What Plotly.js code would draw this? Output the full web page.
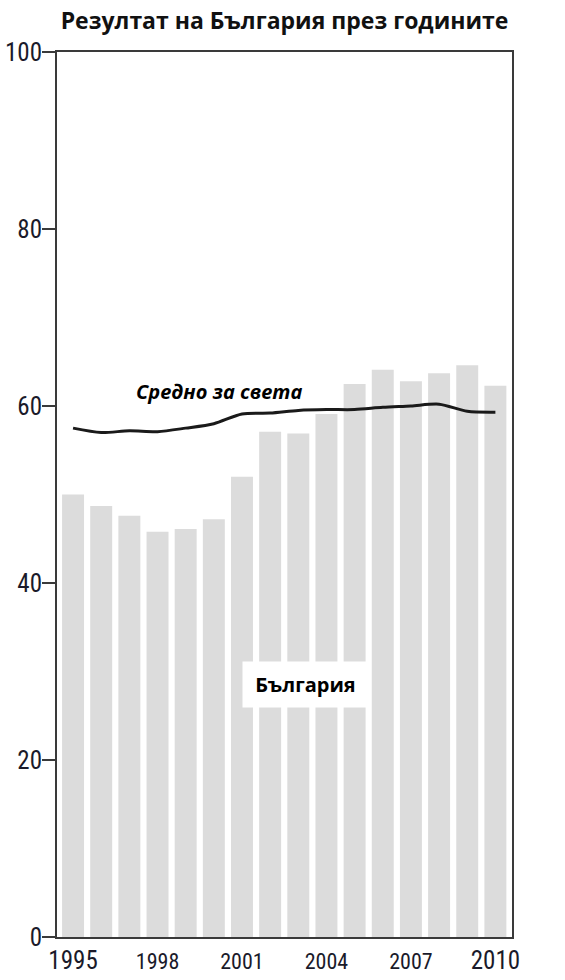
<!DOCTYPE html>
<html>
<head>
<meta charset="utf-8">
<script src="https://cdn.plot.ly/plotly-3.0.1.min.js"></script>
<style>
html,body{margin:0;padding:0;background:#fff;}
#chart{width:565px;height:980px;}
</style>
</head>
<body>
<div id="chart"></div>
<script>
const years = [1995,1996,1997,1998,1999,2000,2001,2002,2003,2004,2005,2006,2007,2008,2009,2010];
const bulgaria = [50.0,48.7,47.6,45.8,46.1,47.2,52.0,57.1,56.9,59.1,62.5,64.1,62.8,63.7,64.6,62.3];
const worldAvg = [57.5,57.0,57.2,57.1,57.5,58.0,59.1,59.2,59.5,59.6,59.6,59.85,60.0,60.2,59.4,59.3];
const xTickVals = [1995,1998,2001,2004,2007,2010];
const xTickText = ['<span style="font-size:25px">1995</span>','1998','2001','2004','2007','<span style="font-size:25px">2010</span>'];
const yTickVals = [0,20,40,60,80,100];

const narrow = '"Liberation Sans Narrow", "Arial Narrow", "Roboto Condensed", "DejaVu Sans Condensed", sans-serif';
const boldFont = '"Open Sans", "Noto Sans", sans-serif';

const traces = [
  {
    type: 'bar',
    x: years,
    y: bulgaria,
    width: 0.78,
    marker: {color: '#dcdcdc', line: {width: 0}},
    hoverinfo: 'skip',
    showlegend: false
  },
  {
    type: 'scatter',
    mode: 'lines',
    x: years,
    y: worldAvg,
    line: {color: '#1a1a1a', width: 3, shape: 'spline', smoothing: 0.8},
    hoverinfo: 'skip',
    showlegend: false
  }
];

const layout = {
  width: 565,
  height: 980,
  paper_bgcolor: '#ffffff',
  plot_bgcolor: '#ffffff',
  margin: {l: 57, r: 53, t: 52, b: 43, pad: 0},
  title: {
    text: '<b>Резултат на България през годините</b>',
    font: {family: boldFont, size: 23, color: '#111111'},
    x: 0.5, xref: 'paper', xanchor: 'center',
    y: 1 - 13/980, yref: 'container', yanchor: 'top'
  },
  xaxis: {
    range: [1994.43, 2010.59],
    tickmode: 'array',
    tickvals: xTickVals,
    ticktext: xTickText,
    ticks: '',
    ticklabelstandoff: 4,
    tickfont: {family: narrow, size: 22, color: '#1a1a2a'},
    showgrid: false,
    zeroline: false,
    showline: true,
    linecolor: '#3a3a3a',
    linewidth: 2,
    mirror: true,
    fixedrange: true
  },
  yaxis: {
    range: [0, 100],
    tickmode: 'array',
    tickvals: yTickVals,
    ticks: 'outside',
    ticklen: 13,
    tickwidth: 1.5,
    tickcolor: '#3a3a3a',
    ticklabelstandoff: -5,
    tickfont: {family: narrow, size: 25, color: '#1a1a2a'},
    showgrid: false,
    zeroline: false,
    showline: true,
    linecolor: '#3a3a3a',
    linewidth: 2,
    mirror: true,
    fixedrange: true
  },
  annotations: [
    {
      text: '<b><i>Средно за света</i></b>',
      x: 2000.18, y: 61.6, xref: 'x', yref: 'y',
      xanchor: 'center', yanchor: 'middle',
      showarrow: false,
      font: {family: boldFont, size: 20, color: '#000000'}
    },
    {
      text: '<b>България</b>',
      x: 2003.25, y: 28.5, xref: 'x', yref: 'y',
      xanchor: 'center', yanchor: 'middle',
      width: 125, height: 45,
      bgcolor: '#ffffff',
      borderpad: 0,
      showarrow: false,
      font: {family: boldFont, size: 20, color: '#000000'}
    }
  ],
  hovermode: false,
  showlegend: false
};

Plotly.newPlot('chart', traces, layout, {staticPlot: true, displayModeBar: false});
</script>
</body>
</html>
